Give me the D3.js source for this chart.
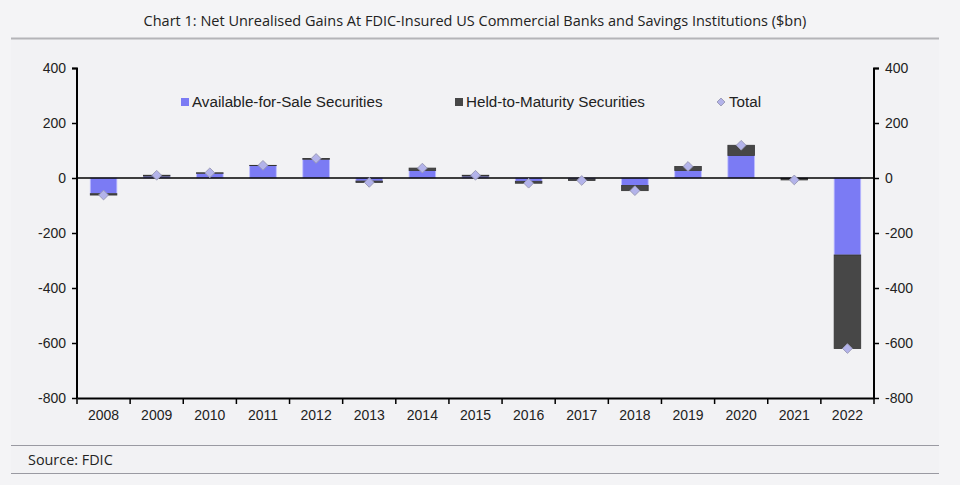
<!DOCTYPE html>
<html>
<head>
<meta charset="utf-8">
<script src="https://cdn.jsdelivr.net/npm/d3@7"></script>
<style>
  body { margin: 0; background: #f4f4f6; }
  svg { display: block; }
</style>
</head>
<body>
<svg id="chart"></svg>
<script>
let width = 960
let height = 485

let years = ['2008', '2009', '2010', '2011', '2012', '2013', '2014', '2015', '2016', '2017', '2018', '2019', '2020', '2021', '2022']
let afs = [-57, 7, 17, 45, 68, -11, 27, 7, -12, -4, -27, 27, 82, -1, -280]
let htm = [-5, 3, 2, 1, 3, -5, 9, 3, -7, -5, -19, 15, 37, -6, -340]
let total = [-62, 10, 19, 46, 71, -16, 36, 10, -19, -9, -46, 42, 119, -7, -620]
let y_ticks = [400, 200, 0, -200, -400, -600, -800]

let fontFamily = 'Liberation Sans, Arial, sans-serif'
let blue = '#7b7bf4'
let dark = '#474747'

let svg = d3.select('#chart')
    .attr('width', width)
    .attr('height', height)

// panel
svg.append('rect')
    .attr('x', 11).attr('y', 38)
    .attr('width', 928).attr('height', 436)
    .attr('fill', '#f2f2f4')

svg.append('text')
    .attr('x', 475).attr('y', 26)
    .attr('text-anchor', 'middle')
    .attr('font-family', 'Open Sans')
    .attr('font-size', '14.5px')
    .attr('fill', '#222')
    .text('Chart 1: Net Unrealised Gains At FDIC-Insured US Commercial Banks and Savings Institutions ($bn)')

svg.append('line')
    .attr('x1', 11).attr('x2', 939).attr('y1', 38.5).attr('y2', 38.5)
    .attr('stroke', '#b4b4b8').attr('stroke-width', 2)

let x = d3.scaleBand()
    .domain(years)
    .range([77, 874])
    .paddingInner(0.5)
    .paddingOuter(0.25)

let y = d3.scaleLinear()
    .domain([-800, 400])
    .range([398, 68])

// stacked segments: AFS from zero, HTM beyond AFS
let bars = svg.append('g')
bars.selectAll('.afs')
    .data(years)
    .enter().append('rect')
    .attr('class', 'afs')
    .attr('x', d => x(d))
    .attr('width', x.bandwidth())
    .attr('y', (d, i) => y(Math.max(0, afs[i])))
    .attr('height', (d, i) => Math.abs(y(afs[i]) - y(0)))
    .attr('fill', blue)
    .attr('stroke', '#bcbcff')
    .attr('stroke-width', 0.8)

bars.selectAll('.htm')
    .data(years)
    .enter().append('rect')
    .attr('class', 'htm')
    .attr('x', d => x(d))
    .attr('width', x.bandwidth())
    .attr('y', (d, i) => {
        let a = afs[i], b = afs[i] + htm[i]
        return y(Math.max(a, b))
    })
    .attr('height', (d, i) => Math.abs(y(afs[i] + htm[i]) - y(afs[i])))
    .attr('fill', dark)
    .attr('stroke', '#333')
    .attr('stroke-width', 0.8)

// zero line
svg.append('line')
    .attr('x1', 77).attr('x2', 874)
    .attr('y1', y(0)).attr('y2', y(0))
    .attr('stroke', '#000').attr('stroke-width', 1.5)

// totals
let diamond = d3.symbol().type(d3.symbolDiamond2).size(60)
svg.append('g')
    .selectAll('path')
    .data(years)
    .enter().append('path')
    .attr('d', diamond)
    .attr('transform', (d, i) => `translate(${x(d) + x.bandwidth() / 2}, ${y(total[i])})`)
    .attr('fill', '#b3b3ea')
    .attr('stroke', '#9c9cb8')
    .attr('stroke-width', 1)

// axes
let axis_left = d3.axisLeft(y).tickValues(y_ticks).tickSize(5).tickPadding(6).tickFormat(d => String(d))
let axis_right = d3.axisRight(y).tickValues(y_ticks).tickSize(5).tickPadding(6).tickFormat(d => String(d))
let axis_x = d3.axisBottom(x).tickSize(0).tickPadding(12)

function style_axis(g) {
    g.attr('font-family', fontFamily).attr('font-size', '14px')
    g.selectAll('text').attr('fill', '#222')
    g.selectAll('line').attr('stroke', '#000').attr('stroke-width', 1.5)
    g.select('.domain').attr('stroke', '#000').attr('stroke-width', 2)
}

svg.append('g')
    .attr('transform', 'translate(77, 0)')
    .call(axis_left)
    .call(g => g.select('.domain').attr('d', 'M-5,68.5H0V398'))
    .call(style_axis)

svg.append('g')
    .attr('transform', 'translate(874, 0)')
    .call(axis_right)
    .call(g => g.select('.domain').attr('d', 'M5,68.5H0V398'))
    .call(style_axis)

svg.append('g')
    .attr('transform', 'translate(0, 398)')
    .call(axis_x)
    .call(style_axis)

// boundary ticks on x axis
let edges = d3.range(years.length + 1).map(i => x.range()[0] + i * x.step())
svg.append('g')
    .selectAll('line')
    .data(edges)
    .enter().append('line')
    .attr('x1', d => d)
    .attr('x2', d => d)
    .attr('y1', 398).attr('y2', 404)
    .attr('stroke', '#000').attr('stroke-width', 1.5)

// legend
let legend = [
    { label: 'Available-for-Sale Securities', x: 181, type: 'rect', color: blue },
    { label: 'Held-to-Maturity Securities', x: 455, type: 'rect', color: dark },
    { label: 'Total', x: 716, type: 'diamond', color: '#b3b3ea' }
]
let lg = svg.append('g').selectAll('g')
    .data(legend)
    .enter().append('g')
    .attr('transform', d => `translate(${d.x}, 102)`)
lg.filter(d => d.type === 'rect').append('rect')
    .attr('x', 0).attr('y', -4)
    .attr('width', 8).attr('height', 8)
    .attr('fill', d => d.color)
lg.filter(d => d.type === 'diamond').append('path')
    .attr('d', d3.symbol().type(d3.symbolDiamond2).size(40))
    .attr('transform', 'translate(5, 0)')
    .attr('fill', d => d.color)
    .attr('stroke', '#9c9cb8')
lg.append('text')
    .attr('x', d => d.type === 'rect' ? 11 : 13)
    .attr('y', 5)
    .attr('font-family', fontFamily)
    .attr('font-size', '15.2px')
    .attr('fill', '#222')
    .text(d => d.label)

// footer
svg.append('line')
    .attr('x1', 11).attr('x2', 939).attr('y1', 445.5).attr('y2', 445.5)
    .attr('stroke', '#9a9aa2').attr('stroke-width', 1)
svg.append('line')
    .attr('x1', 11).attr('x2', 939).attr('y1', 473.5).attr('y2', 473.5)
    .attr('stroke', '#9a9aa2').attr('stroke-width', 1)
svg.append('text')
    .attr('x', 28).attr('y', 465)
    .attr('font-family', 'Open Sans')
    .attr('font-size', '14.4px')
    .attr('fill', '#222')
    .text('Source: FDIC')
</script>
</body>
</html>
